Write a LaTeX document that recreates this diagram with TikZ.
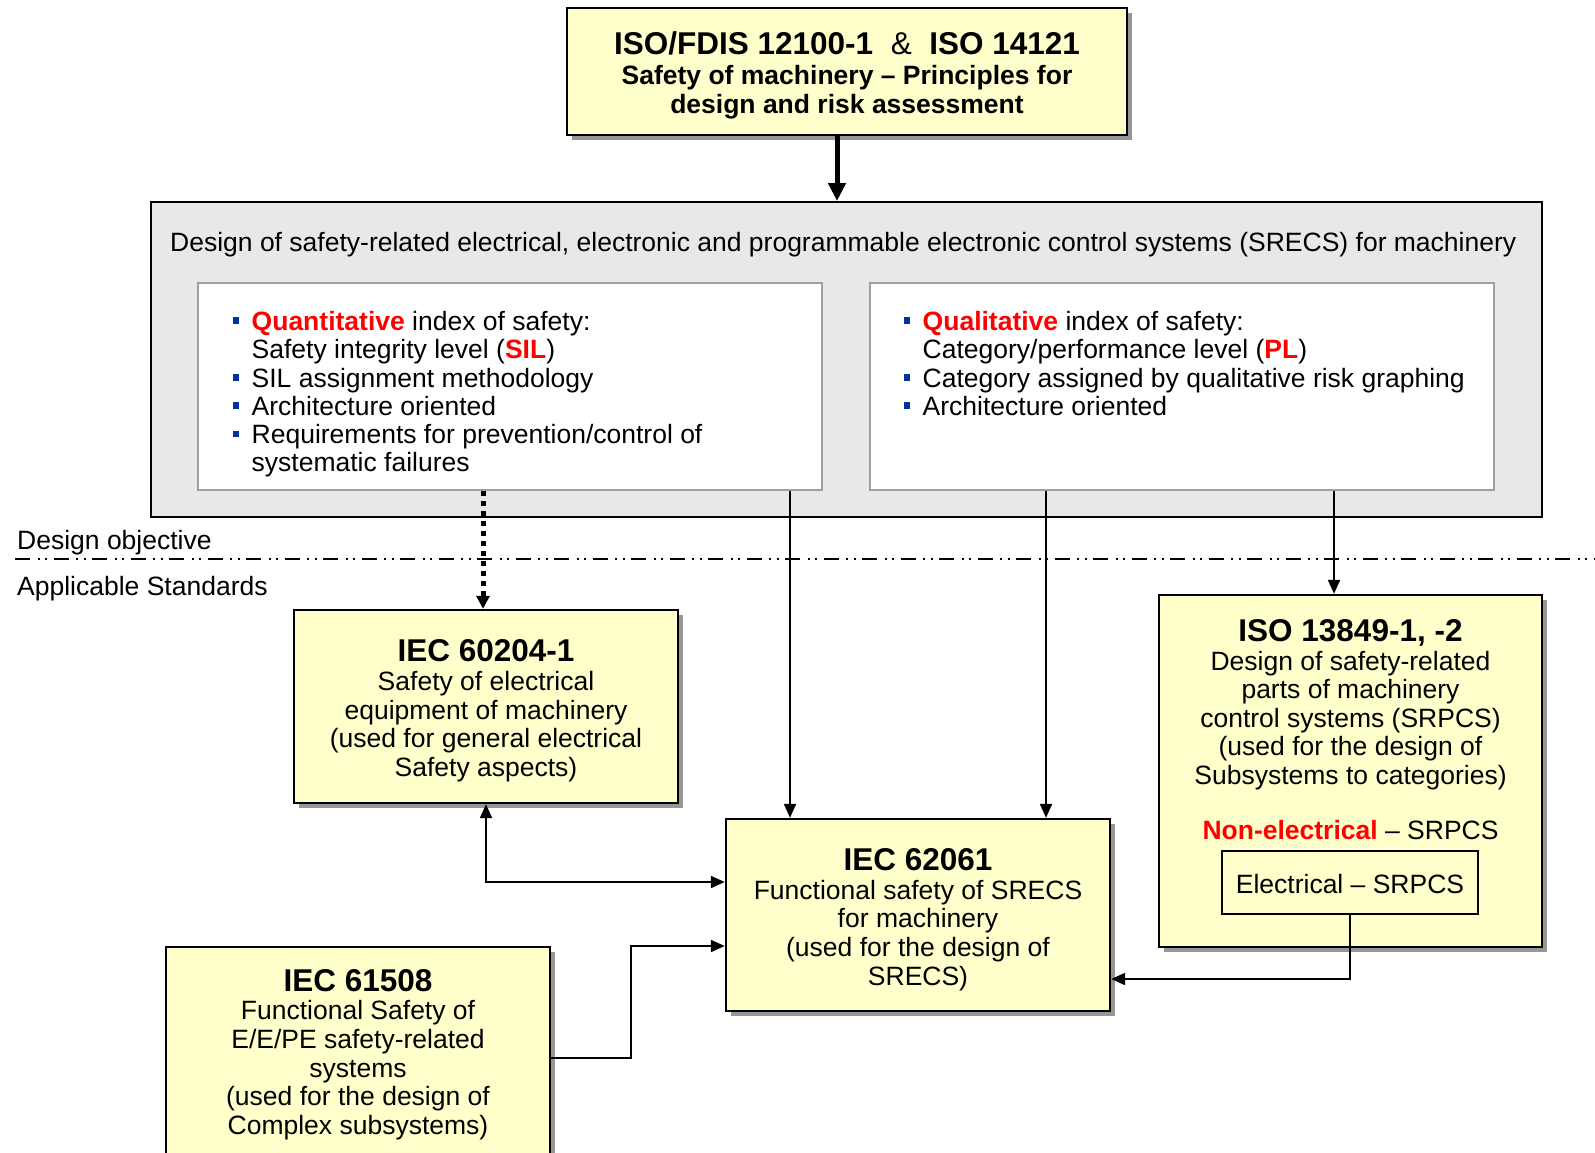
\documentclass[tikz,border=0pt]{standalone}
\usepackage{fontspec}
\setmainfont{Liberation Sans}
\usetikzlibrary{arrows.meta,shadows,calc}

\definecolor{boxyellow}{RGB}{255,255,204}
\definecolor{panelgray}{RGB}{232,232,232}
\definecolor{framegray}{RGB}{160,160,160}
\definecolor{bulletblue}{RGB}{0,51,160}
\definecolor{hired}{RGB}{255,0,0}
\definecolor{shadowgray}{RGB}{150,150,150}

% square list bullet hanging in the left margin
\newcommand{\sqbul}{\llap{\textcolor{bulletblue}{\rule[6.5pt]{6.5pt}{6.5pt}}\hspace{12.4pt}}}
% standard number used as the heading of a yellow box
\newcommand{\stdtitle}[1]{{\fontsize{31.5}{28.7}\selectfont\bfseries #1}}
\newcommand{\hl}[1]{{\bfseries\color{hired}#1}}
% extra room above the first line of a yellow box
\newcommand{\topgap}{\rule{0pt}{31pt}}
% fixed baseline distance even when lines nearly touch
\newcommand{\tightlines}{\lineskiplimit=-100pt\relax\lineskip=0pt\relax}

\tikzset{
  ybox/.style={draw=black, line width=2.4pt, fill=boxyellow, align=center,
    inner sep=0pt, font=\fontsize{26.5}{28.7}\selectfont,
    drop shadow={shadow xshift=5pt, shadow yshift=-5pt, fill=shadowgray, opacity=1}},
  panel/.style={draw=black, line width=2pt, fill=panelgray, inner sep=0pt},
  wbox/.style={draw=framegray, line width=2pt, fill=white, inner sep=0pt,
    minimum width=624pt, minimum height=207pt},
  blist/.style={align=left, inner sep=0pt,
    font=\fontsize{26.5}{28.3}\selectfont\tightlines},
  plain/.style={inner sep=0pt, font=\fontsize{26.5}{28}\selectfont},
  txt/.style={align=center, inner sep=0pt, font=\fontsize{26.5}{28.5}\selectfont},
  conn/.style={line width=2pt, -{Triangle[length=14pt,width=12pt]}},
  dotconn/.style={line width=5pt, dash pattern=on 5pt off 5pt,
    -{Triangle[length=13pt,width=13pt]}},
  bigconn/.style={line width=5pt, -{Triangle[length=18pt,width=17pt]}},
  sepline/.style={line width=2pt,
    dash pattern=on 15pt off 7.5pt on 2pt off 5.5pt on 2pt off 6.5pt},
}

\begin{document}
\begin{tikzpicture}[x=1pt, y=-1pt]
\path[use as bounding box, fill=white] (0,0) rectangle (1595,1153);

% general principles at the top
\node[ybox, minimum width=560pt, minimum height=127pt,
      font=\bfseries\fontsize{26.5}{29}\selectfont] (iso12100) at (847,71.5)
  {\rule{0pt}{30pt}{\fontsize{31.5}{29}\selectfont ISO/FDIS 12100-1\ \ \mdseries\&\ \ \bfseries ISO 14121}\\[1pt]
   Safety of machinery -- Principles for\\ design and risk assessment};

% design objective panel
\node[panel, minimum width=1391pt, minimum height=315pt] (srecs) at (846.5,359.5) {};
\node[plain, anchor=west] (srecshead) at (170,245)
  {Design of safety-related electrical, electronic and programmable electronic control systems (SRECS) for machinery};
\node[wbox] (quant) at (510,386.5) {};
\node[wbox] (qual) at (1182,386.5) {};
\node[blist, anchor=north west] (quanttxt) at (251.5,311)
  {\sqbul\hl{Quantitative} index of safety:\\
   Safety integrity level (\hl{SIL})\\
   \sqbul SIL assignment methodology\\
   \sqbul Architecture oriented\\
   \sqbul Requirements for prevention/control of\\
   systematic failures};
\node[blist, anchor=north west] (qualtxt) at (922.5,311)
  {\sqbul\hl{Qualitative} index of safety:\\
   Category/performance level (\hl{PL})\\
   \sqbul Category assigned by qualitative risk graphing\\
   \sqbul Architecture oriented};

% separation between objective and standards
\node[plain, anchor=west] (objlbl) at (17,543) {Design objective};
\node[plain, anchor=west] (stdlbl) at (17,589) {Applicable Standards};
\coordinate (sepL) at (15,559);
\coordinate (sepR) at (1595,559);
\draw[sepline] (sepL) -- (sepR);

% applicable standards
\node[ybox, minimum width=384pt, minimum height=193pt] (iec60204) at (486,706.5)
  {\topgap\stdtitle{IEC 60204-1}\\Safety of electrical\\equipment of machinery\\(used for general electrical\\Safety aspects)};
\node[ybox, minimum width=384pt, minimum height=192pt] (iec62061) at (918,915)
  {\topgap\stdtitle{IEC 62061}\\Functional safety of SRECS\\for machinery\\(used for the design of\\SRECS)};
\node[ybox, minimum width=383pt, minimum height=352pt] (iso13849) at (1350.5,771) {};
\node[txt, anchor=north] (isotxt) at (1350.5,619.5)
  {\stdtitle{ISO 13849-1, -2}\\Design of safety-related\\parts of machinery\\control systems (SRPCS)\\(used for the design of\\Subsystems to categories)\\[27pt]
   \hl{Non-electrical} -- SRPCS};
\node[draw=black, line width=2pt, fill=boxyellow, minimum width=256pt, minimum height=63pt,
      inner sep=0pt, font=\fontsize{26.5}{28.5}\selectfont] (elec) at (1350,882.5)
  {\rule{0pt}{22pt}Electrical -- SRPCS};
\node[ybox, minimum width=384pt, minimum height=215pt] (iec61508) at (358,1054.5)
  {\stdtitle{IEC 61508}\\Functional Safety of\\E/E/PE safety-related\\systems\\(used for the design of\\Complex subsystems)};

% connectors
\coordinate (topx) at (837,0);
\draw[bigconn] (iso12100.south -| topx) -- (srecs.north -| topx);
\coordinate (dotx) at (483,0);
\draw[dotconn] (quant.south -| dotx) -- (iec60204.north -| dotx);
\coordinate (lx) at (790,0);
\draw[conn] (quant.south -| lx) -- (iec62061.north -| lx);
\coordinate (rx) at (1046,0);
\draw[conn] (qual.south -| rx) -- (iec62061.north -| rx);
\coordinate (isox) at (1334,0);
\draw[conn] (qual.south -| isox) -- (iso13849.north -| isox);
\coordinate (fby) at (0,882);
\draw[conn, {Triangle[length=14pt,width=12pt]}-{Triangle[length=14pt,width=12pt]}]
  (iec60204.south) |- (iec62061.west |- fby);
\coordinate (outy) at (0,1058);
\coordinate (jog) at (631,946);
\draw[conn] (iec61508.east |- outy) -| (jog) -- (iec62061.west |- jog);
\coordinate (ey) at (0,979);
\draw[conn] (elec.south) |- (iec62061.east |- ey);
\end{tikzpicture}
\end{document}
